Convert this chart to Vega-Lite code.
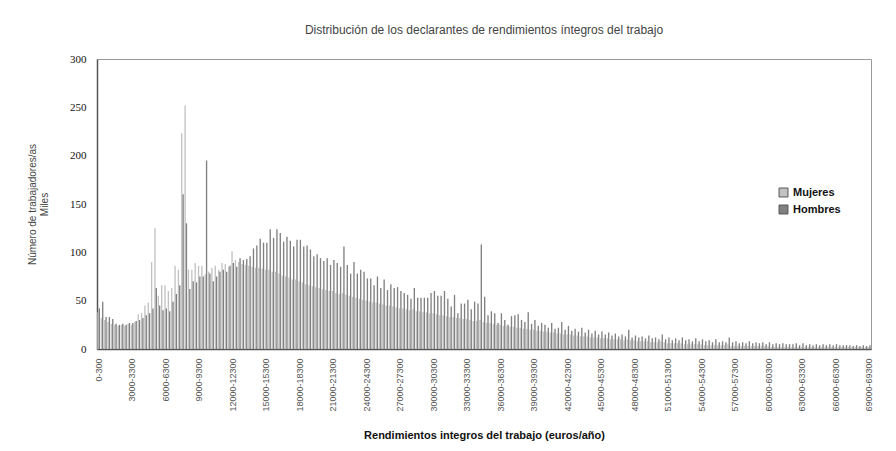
{
"$schema":"https://vega.github.io/schema/vega-lite/v6.json",
"width":774,"height":290,
"autosize":{"type":"none"},
"padding":{"left":97,"top":59,"right":25,"bottom":102},
"background":"white",
"title":{"text":"Distribución de los declarantes de rendimientos íntegros del trabajo","font":"Liberation Sans","fontSize":12,"fontWeight":"normal","color":"#444","anchor":"middle","offset":16},
"config":{"view":{"stroke":"#9a9a9a","strokeWidth":1}},
"data":{"values":[
{"rango":"0-300","sexo":"Mujeres","miles":38},{"rango":"0-300","sexo":"Hombres","miles":42},
{"rango":"300-600","sexo":"Mujeres","miles":32},{"rango":"300-600","sexo":"Hombres","miles":49},
{"rango":"600-900","sexo":"Mujeres","miles":30},{"rango":"600-900","sexo":"Hombres","miles":33},
{"rango":"900-1200","sexo":"Mujeres","miles":28},{"rango":"900-1200","sexo":"Hombres","miles":33},
{"rango":"1200-1500","sexo":"Mujeres","miles":26},{"rango":"1200-1500","sexo":"Hombres","miles":31},
{"rango":"1500-1800","sexo":"Mujeres","miles":25},{"rango":"1500-1800","sexo":"Hombres","miles":26},
{"rango":"1800-2100","sexo":"Mujeres","miles":24},{"rango":"1800-2100","sexo":"Hombres","miles":25},
{"rango":"2100-2400","sexo":"Mujeres","miles":25},{"rango":"2100-2400","sexo":"Hombres","miles":26},
{"rango":"2400-2700","sexo":"Mujeres","miles":24},{"rango":"2400-2700","sexo":"Hombres","miles":25},
{"rango":"2700-3000","sexo":"Mujeres","miles":26},{"rango":"2700-3000","sexo":"Hombres","miles":27},
{"rango":"3000-3300","sexo":"Mujeres","miles":25},{"rango":"3000-3300","sexo":"Hombres","miles":27},
{"rango":"3300-3600","sexo":"Mujeres","miles":28},{"rango":"3300-3600","sexo":"Hombres","miles":29},
{"rango":"3600-3900","sexo":"Mujeres","miles":36},{"rango":"3600-3900","sexo":"Hombres","miles":30},
{"rango":"3900-4200","sexo":"Mujeres","miles":37},{"rango":"3900-4200","sexo":"Hombres","miles":32},
{"rango":"4200-4500","sexo":"Mujeres","miles":45},{"rango":"4200-4500","sexo":"Hombres","miles":35},
{"rango":"4500-4800","sexo":"Mujeres","miles":48},{"rango":"4500-4800","sexo":"Hombres","miles":37},
{"rango":"4800-5100","sexo":"Mujeres","miles":90},{"rango":"4800-5100","sexo":"Hombres","miles":42},
{"rango":"5100-5400","sexo":"Mujeres","miles":125},{"rango":"5100-5400","sexo":"Hombres","miles":63},
{"rango":"5400-5700","sexo":"Mujeres","miles":55},{"rango":"5400-5700","sexo":"Hombres","miles":45},
{"rango":"5700-6000","sexo":"Mujeres","miles":66},{"rango":"5700-6000","sexo":"Hombres","miles":40},
{"rango":"6000-6300","sexo":"Mujeres","miles":66},{"rango":"6000-6300","sexo":"Hombres","miles":42},
{"rango":"6300-6600","sexo":"Mujeres","miles":60},{"rango":"6300-6600","sexo":"Hombres","miles":39},
{"rango":"6600-6900","sexo":"Mujeres","miles":63},{"rango":"6600-6900","sexo":"Hombres","miles":49},
{"rango":"6900-7200","sexo":"Mujeres","miles":86},{"rango":"6900-7200","sexo":"Hombres","miles":57},
{"rango":"7200-7500","sexo":"Mujeres","miles":82},{"rango":"7200-7500","sexo":"Hombres","miles":66},
{"rango":"7500-7800","sexo":"Mujeres","miles":223},{"rango":"7500-7800","sexo":"Hombres","miles":160},
{"rango":"7800-8100","sexo":"Mujeres","miles":252},{"rango":"7800-8100","sexo":"Hombres","miles":130},
{"rango":"8100-8400","sexo":"Mujeres","miles":82},{"rango":"8100-8400","sexo":"Hombres","miles":62},
{"rango":"8400-8700","sexo":"Mujeres","miles":82},{"rango":"8400-8700","sexo":"Hombres","miles":70},
{"rango":"8700-9000","sexo":"Mujeres","miles":89},{"rango":"8700-9000","sexo":"Hombres","miles":69},
{"rango":"9000-9300","sexo":"Mujeres","miles":86},{"rango":"9000-9300","sexo":"Hombres","miles":75},
{"rango":"9300-9600","sexo":"Mujeres","miles":86},{"rango":"9300-9600","sexo":"Hombres","miles":75},
{"rango":"9600-9900","sexo":"Mujeres","miles":77},{"rango":"9600-9900","sexo":"Hombres","miles":195},
{"rango":"9900-10200","sexo":"Mujeres","miles":80},{"rango":"9900-10200","sexo":"Hombres","miles":78},
{"rango":"10200-10500","sexo":"Mujeres","miles":84},{"rango":"10200-10500","sexo":"Hombres","miles":70},
{"rango":"10500-10800","sexo":"Mujeres","miles":86},{"rango":"10500-10800","sexo":"Hombres","miles":75},
{"rango":"10800-11100","sexo":"Mujeres","miles":82},{"rango":"10800-11100","sexo":"Hombres","miles":80},
{"rango":"11100-11400","sexo":"Mujeres","miles":89},{"rango":"11100-11400","sexo":"Hombres","miles":82},
{"rango":"11400-11700","sexo":"Mujeres","miles":88},{"rango":"11400-11700","sexo":"Hombres","miles":80},
{"rango":"11700-12000","sexo":"Mujeres","miles":85},{"rango":"11700-12000","sexo":"Hombres","miles":86},
{"rango":"12000-12300","sexo":"Mujeres","miles":101},{"rango":"12000-12300","sexo":"Hombres","miles":89},
{"rango":"12300-12600","sexo":"Mujeres","miles":92},{"rango":"12300-12600","sexo":"Hombres","miles":85},
{"rango":"12600-12900","sexo":"Mujeres","miles":90},{"rango":"12600-12900","sexo":"Hombres","miles":94},
{"rango":"12900-13200","sexo":"Mujeres","miles":88},{"rango":"12900-13200","sexo":"Hombres","miles":92},
{"rango":"13200-13500","sexo":"Mujeres","miles":87},{"rango":"13200-13500","sexo":"Hombres","miles":93},
{"rango":"13500-13800","sexo":"Mujeres","miles":86},{"rango":"13500-13800","sexo":"Hombres","miles":96},
{"rango":"13800-14100","sexo":"Mujeres","miles":85},{"rango":"13800-14100","sexo":"Hombres","miles":104},
{"rango":"14100-14400","sexo":"Mujeres","miles":84},{"rango":"14100-14400","sexo":"Hombres","miles":107},
{"rango":"14400-14700","sexo":"Mujeres","miles":84},{"rango":"14400-14700","sexo":"Hombres","miles":114},
{"rango":"14700-15000","sexo":"Mujeres","miles":83},{"rango":"14700-15000","sexo":"Hombres","miles":110},
{"rango":"15000-15300","sexo":"Mujeres","miles":82},{"rango":"15000-15300","sexo":"Hombres","miles":110},
{"rango":"15300-15600","sexo":"Mujeres","miles":82},{"rango":"15300-15600","sexo":"Hombres","miles":124},
{"rango":"15600-15900","sexo":"Mujeres","miles":80},{"rango":"15600-15900","sexo":"Hombres","miles":115},
{"rango":"15900-16200","sexo":"Mujeres","miles":80},{"rango":"15900-16200","sexo":"Hombres","miles":124},
{"rango":"16200-16500","sexo":"Mujeres","miles":78},{"rango":"16200-16500","sexo":"Hombres","miles":120},
{"rango":"16500-16800","sexo":"Mujeres","miles":76},{"rango":"16500-16800","sexo":"Hombres","miles":111},
{"rango":"16800-17100","sexo":"Mujeres","miles":75},{"rango":"16800-17100","sexo":"Hombres","miles":116},
{"rango":"17100-17400","sexo":"Mujeres","miles":74},{"rango":"17100-17400","sexo":"Hombres","miles":112},
{"rango":"17400-17700","sexo":"Mujeres","miles":72},{"rango":"17400-17700","sexo":"Hombres","miles":106},
{"rango":"17700-18000","sexo":"Mujeres","miles":72},{"rango":"17700-18000","sexo":"Hombres","miles":113},
{"rango":"18000-18300","sexo":"Mujeres","miles":70},{"rango":"18000-18300","sexo":"Hombres","miles":113},
{"rango":"18300-18600","sexo":"Mujeres","miles":69},{"rango":"18300-18600","sexo":"Hombres","miles":106},
{"rango":"18600-18900","sexo":"Mujeres","miles":67},{"rango":"18600-18900","sexo":"Hombres","miles":107},
{"rango":"18900-19200","sexo":"Mujeres","miles":66},{"rango":"18900-19200","sexo":"Hombres","miles":103},
{"rango":"19200-19500","sexo":"Mujeres","miles":65},{"rango":"19200-19500","sexo":"Hombres","miles":96},
{"rango":"19500-19800","sexo":"Mujeres","miles":64},{"rango":"19500-19800","sexo":"Hombres","miles":98},
{"rango":"19800-20100","sexo":"Mujeres","miles":63},{"rango":"19800-20100","sexo":"Hombres","miles":94},
{"rango":"20100-20400","sexo":"Mujeres","miles":62},{"rango":"20100-20400","sexo":"Hombres","miles":91},
{"rango":"20400-20700","sexo":"Mujeres","miles":61},{"rango":"20400-20700","sexo":"Hombres","miles":94},
{"rango":"20700-21000","sexo":"Mujeres","miles":60},{"rango":"20700-21000","sexo":"Hombres","miles":87},
{"rango":"21000-21300","sexo":"Mujeres","miles":60},{"rango":"21000-21300","sexo":"Hombres","miles":92},
{"rango":"21300-21600","sexo":"Mujeres","miles":58},{"rango":"21300-21600","sexo":"Hombres","miles":89},
{"rango":"21600-21900","sexo":"Mujeres","miles":57},{"rango":"21600-21900","sexo":"Hombres","miles":85},
{"rango":"21900-22200","sexo":"Mujeres","miles":58},{"rango":"21900-22200","sexo":"Hombres","miles":106},
{"rango":"22200-22500","sexo":"Mujeres","miles":56},{"rango":"22200-22500","sexo":"Hombres","miles":87},
{"rango":"22500-22800","sexo":"Mujeres","miles":55},{"rango":"22500-22800","sexo":"Hombres","miles":78},
{"rango":"22800-23100","sexo":"Mujeres","miles":54},{"rango":"22800-23100","sexo":"Hombres","miles":90},
{"rango":"23100-23400","sexo":"Mujeres","miles":53},{"rango":"23100-23400","sexo":"Hombres","miles":78},
{"rango":"23400-23700","sexo":"Mujeres","miles":52},{"rango":"23400-23700","sexo":"Hombres","miles":82},
{"rango":"23700-24000","sexo":"Mujeres","miles":51},{"rango":"23700-24000","sexo":"Hombres","miles":80},
{"rango":"24000-24300","sexo":"Mujeres","miles":50},{"rango":"24000-24300","sexo":"Hombres","miles":73},
{"rango":"24300-24600","sexo":"Mujeres","miles":49},{"rango":"24300-24600","sexo":"Hombres","miles":73},
{"rango":"24600-24900","sexo":"Mujeres","miles":48},{"rango":"24600-24900","sexo":"Hombres","miles":66},
{"rango":"24900-25200","sexo":"Mujeres","miles":48},{"rango":"24900-25200","sexo":"Hombres","miles":75},
{"rango":"25200-25500","sexo":"Mujeres","miles":47},{"rango":"25200-25500","sexo":"Hombres","miles":63},
{"rango":"25500-25800","sexo":"Mujeres","miles":46},{"rango":"25500-25800","sexo":"Hombres","miles":72},
{"rango":"25800-26100","sexo":"Mujeres","miles":45},{"rango":"25800-26100","sexo":"Hombres","miles":61},
{"rango":"26100-26400","sexo":"Mujeres","miles":45},{"rango":"26100-26400","sexo":"Hombres","miles":67},
{"rango":"26400-26700","sexo":"Mujeres","miles":44},{"rango":"26400-26700","sexo":"Hombres","miles":63},
{"rango":"26700-27000","sexo":"Mujeres","miles":43},{"rango":"26700-27000","sexo":"Hombres","miles":64},
{"rango":"27000-27300","sexo":"Mujeres","miles":42},{"rango":"27000-27300","sexo":"Hombres","miles":60},
{"rango":"27300-27600","sexo":"Mujeres","miles":42},{"rango":"27300-27600","sexo":"Hombres","miles":58},
{"rango":"27600-27900","sexo":"Mujeres","miles":41},{"rango":"27600-27900","sexo":"Hombres","miles":56},
{"rango":"27900-28200","sexo":"Mujeres","miles":40},{"rango":"27900-28200","sexo":"Hombres","miles":52},
{"rango":"28200-28500","sexo":"Mujeres","miles":41},{"rango":"28200-28500","sexo":"Hombres","miles":63},
{"rango":"28500-28800","sexo":"Mujeres","miles":39},{"rango":"28500-28800","sexo":"Hombres","miles":53},
{"rango":"28800-29100","sexo":"Mujeres","miles":39},{"rango":"28800-29100","sexo":"Hombres","miles":53},
{"rango":"29100-29400","sexo":"Mujeres","miles":38},{"rango":"29100-29400","sexo":"Hombres","miles":53},
{"rango":"29400-29700","sexo":"Mujeres","miles":38},{"rango":"29400-29700","sexo":"Hombres","miles":53},
{"rango":"29700-30000","sexo":"Mujeres","miles":37},{"rango":"29700-30000","sexo":"Hombres","miles":58},
{"rango":"30000-30300","sexo":"Mujeres","miles":37},{"rango":"30000-30300","sexo":"Hombres","miles":60},
{"rango":"30300-30600","sexo":"Mujeres","miles":36},{"rango":"30300-30600","sexo":"Hombres","miles":55},
{"rango":"30600-30900","sexo":"Mujeres","miles":35},{"rango":"30600-30900","sexo":"Hombres","miles":55},
{"rango":"30900-31200","sexo":"Mujeres","miles":35},{"rango":"30900-31200","sexo":"Hombres","miles":60},
{"rango":"31200-31500","sexo":"Mujeres","miles":34},{"rango":"31200-31500","sexo":"Hombres","miles":52},
{"rango":"31500-31800","sexo":"Mujeres","miles":33},{"rango":"31500-31800","sexo":"Hombres","miles":44},
{"rango":"31800-32100","sexo":"Mujeres","miles":33},{"rango":"31800-32100","sexo":"Hombres","miles":56},
{"rango":"32100-32400","sexo":"Mujeres","miles":32},{"rango":"32100-32400","sexo":"Hombres","miles":37},
{"rango":"32400-32700","sexo":"Mujeres","miles":32},{"rango":"32400-32700","sexo":"Hombres","miles":47},
{"rango":"32700-33000","sexo":"Mujeres","miles":31},{"rango":"32700-33000","sexo":"Hombres","miles":47},
{"rango":"33000-33300","sexo":"Mujeres","miles":31},{"rango":"33000-33300","sexo":"Hombres","miles":51},
{"rango":"33300-33600","sexo":"Mujeres","miles":30},{"rango":"33300-33600","sexo":"Hombres","miles":41},
{"rango":"33600-33900","sexo":"Mujeres","miles":29},{"rango":"33600-33900","sexo":"Hombres","miles":49},
{"rango":"33900-34200","sexo":"Mujeres","miles":29},{"rango":"33900-34200","sexo":"Hombres","miles":47},
{"rango":"34200-34500","sexo":"Mujeres","miles":30},{"rango":"34200-34500","sexo":"Hombres","miles":108},
{"rango":"34500-34800","sexo":"Mujeres","miles":28},{"rango":"34500-34800","sexo":"Hombres","miles":54},
{"rango":"34800-35100","sexo":"Mujeres","miles":27},{"rango":"34800-35100","sexo":"Hombres","miles":35},
{"rango":"35100-35400","sexo":"Mujeres","miles":27},{"rango":"35100-35400","sexo":"Hombres","miles":39},
{"rango":"35400-35700","sexo":"Mujeres","miles":26},{"rango":"35400-35700","sexo":"Hombres","miles":37},
{"rango":"35700-36000","sexo":"Mujeres","miles":25},{"rango":"35700-36000","sexo":"Hombres","miles":27},
{"rango":"36000-36300","sexo":"Mujeres","miles":25},{"rango":"36000-36300","sexo":"Hombres","miles":37},
{"rango":"36300-36600","sexo":"Mujeres","miles":24},{"rango":"36300-36600","sexo":"Hombres","miles":30},
{"rango":"36600-36900","sexo":"Mujeres","miles":24},{"rango":"36600-36900","sexo":"Hombres","miles":25},
{"rango":"36900-37200","sexo":"Mujeres","miles":23},{"rango":"36900-37200","sexo":"Hombres","miles":34},
{"rango":"37200-37500","sexo":"Mujeres","miles":23},{"rango":"37200-37500","sexo":"Hombres","miles":35},
{"rango":"37500-37800","sexo":"Mujeres","miles":22},{"rango":"37500-37800","sexo":"Hombres","miles":36},
{"rango":"37800-38100","sexo":"Mujeres","miles":22},{"rango":"37800-38100","sexo":"Hombres","miles":30},
{"rango":"38100-38400","sexo":"Mujeres","miles":21},{"rango":"38100-38400","sexo":"Hombres","miles":28},
{"rango":"38400-38700","sexo":"Mujeres","miles":21},{"rango":"38400-38700","sexo":"Hombres","miles":38},
{"rango":"38700-39000","sexo":"Mujeres","miles":20},{"rango":"38700-39000","sexo":"Hombres","miles":26},
{"rango":"39000-39300","sexo":"Mujeres","miles":20},{"rango":"39000-39300","sexo":"Hombres","miles":30},
{"rango":"39300-39600","sexo":"Mujeres","miles":19},{"rango":"39300-39600","sexo":"Hombres","miles":24},
{"rango":"39600-39900","sexo":"Mujeres","miles":19},{"rango":"39600-39900","sexo":"Hombres","miles":27},
{"rango":"39900-40200","sexo":"Mujeres","miles":18},{"rango":"39900-40200","sexo":"Hombres","miles":25},
{"rango":"40200-40500","sexo":"Mujeres","miles":18},{"rango":"40200-40500","sexo":"Hombres","miles":22},
{"rango":"40500-40800","sexo":"Mujeres","miles":17},{"rango":"40500-40800","sexo":"Hombres","miles":27},
{"rango":"40800-41100","sexo":"Mujeres","miles":17},{"rango":"40800-41100","sexo":"Hombres","miles":21},
{"rango":"41100-41400","sexo":"Mujeres","miles":16},{"rango":"41100-41400","sexo":"Hombres","miles":22},
{"rango":"41400-41700","sexo":"Mujeres","miles":16},{"rango":"41400-41700","sexo":"Hombres","miles":28},
{"rango":"41700-42000","sexo":"Mujeres","miles":15},{"rango":"41700-42000","sexo":"Hombres","miles":20},
{"rango":"42000-42300","sexo":"Mujeres","miles":15},{"rango":"42000-42300","sexo":"Hombres","miles":24},
{"rango":"42300-42600","sexo":"Mujeres","miles":15},{"rango":"42300-42600","sexo":"Hombres","miles":19},
{"rango":"42600-42900","sexo":"Mujeres","miles":14},{"rango":"42600-42900","sexo":"Hombres","miles":21},
{"rango":"42900-43200","sexo":"Mujeres","miles":14},{"rango":"42900-43200","sexo":"Hombres","miles":18},
{"rango":"43200-43500","sexo":"Mujeres","miles":13},{"rango":"43200-43500","sexo":"Hombres","miles":22},
{"rango":"43500-43800","sexo":"Mujeres","miles":13},{"rango":"43500-43800","sexo":"Hombres","miles":17},
{"rango":"43800-44100","sexo":"Mujeres","miles":13},{"rango":"43800-44100","sexo":"Hombres","miles":20},
{"rango":"44100-44400","sexo":"Mujeres","miles":12},{"rango":"44100-44400","sexo":"Hombres","miles":16},
{"rango":"44400-44700","sexo":"Mujeres","miles":12},{"rango":"44400-44700","sexo":"Hombres","miles":19},
{"rango":"44700-45000","sexo":"Mujeres","miles":12},{"rango":"44700-45000","sexo":"Hombres","miles":15},
{"rango":"45000-45300","sexo":"Mujeres","miles":11},{"rango":"45000-45300","sexo":"Hombres","miles":18},
{"rango":"45300-45600","sexo":"Mujeres","miles":11},{"rango":"45300-45600","sexo":"Hombres","miles":15},
{"rango":"45600-45900","sexo":"Mujeres","miles":11},{"rango":"45600-45900","sexo":"Hombres","miles":17},
{"rango":"45900-46200","sexo":"Mujeres","miles":10},{"rango":"45900-46200","sexo":"Hombres","miles":14},
{"rango":"46200-46500","sexo":"Mujeres","miles":10},{"rango":"46200-46500","sexo":"Hombres","miles":16},
{"rango":"46500-46800","sexo":"Mujeres","miles":10},{"rango":"46500-46800","sexo":"Hombres","miles":13},
{"rango":"46800-47100","sexo":"Mujeres","miles":10},{"rango":"46800-47100","sexo":"Hombres","miles":15},
{"rango":"47100-47400","sexo":"Mujeres","miles":9},{"rango":"47100-47400","sexo":"Hombres","miles":13},
{"rango":"47400-47700","sexo":"Mujeres","miles":10},{"rango":"47400-47700","sexo":"Hombres","miles":20},
{"rango":"47700-48000","sexo":"Mujeres","miles":9},{"rango":"47700-48000","sexo":"Hombres","miles":12},
{"rango":"48000-48300","sexo":"Mujeres","miles":9},{"rango":"48000-48300","sexo":"Hombres","miles":14},
{"rango":"48300-48600","sexo":"Mujeres","miles":8},{"rango":"48300-48600","sexo":"Hombres","miles":12},
{"rango":"48600-48900","sexo":"Mujeres","miles":8},{"rango":"48600-48900","sexo":"Hombres","miles":13},
{"rango":"48900-49200","sexo":"Mujeres","miles":8},{"rango":"48900-49200","sexo":"Hombres","miles":11},
{"rango":"49200-49500","sexo":"Mujeres","miles":8},{"rango":"49200-49500","sexo":"Hombres","miles":14},
{"rango":"49500-49800","sexo":"Mujeres","miles":7},{"rango":"49500-49800","sexo":"Hombres","miles":11},
{"rango":"49800-50100","sexo":"Mujeres","miles":7},{"rango":"49800-50100","sexo":"Hombres","miles":12},
{"rango":"50100-50400","sexo":"Mujeres","miles":7},{"rango":"50100-50400","sexo":"Hombres","miles":10},
{"rango":"50400-50700","sexo":"Mujeres","miles":8},{"rango":"50400-50700","sexo":"Hombres","miles":15},
{"rango":"50700-51000","sexo":"Mujeres","miles":7},{"rango":"50700-51000","sexo":"Hombres","miles":10},
{"rango":"51000-51300","sexo":"Mujeres","miles":6},{"rango":"51000-51300","sexo":"Hombres","miles":12},
{"rango":"51300-51600","sexo":"Mujeres","miles":6},{"rango":"51300-51600","sexo":"Hombres","miles":9},
{"rango":"51600-51900","sexo":"Mujeres","miles":6},{"rango":"51600-51900","sexo":"Hombres","miles":11},
{"rango":"51900-52200","sexo":"Mujeres","miles":6},{"rango":"51900-52200","sexo":"Hombres","miles":9},
{"rango":"52200-52500","sexo":"Mujeres","miles":6},{"rango":"52200-52500","sexo":"Hombres","miles":12},
{"rango":"52500-52800","sexo":"Mujeres","miles":5},{"rango":"52500-52800","sexo":"Hombres","miles":9},
{"rango":"52800-53100","sexo":"Mujeres","miles":5},{"rango":"52800-53100","sexo":"Hombres","miles":10},
{"rango":"53100-53400","sexo":"Mujeres","miles":5},{"rango":"53100-53400","sexo":"Hombres","miles":8},
{"rango":"53400-53700","sexo":"Mujeres","miles":5},{"rango":"53400-53700","sexo":"Hombres","miles":11},
{"rango":"53700-54000","sexo":"Mujeres","miles":5},{"rango":"53700-54000","sexo":"Hombres","miles":8},
{"rango":"54000-54300","sexo":"Mujeres","miles":5},{"rango":"54000-54300","sexo":"Hombres","miles":10},
{"rango":"54300-54600","sexo":"Mujeres","miles":4},{"rango":"54300-54600","sexo":"Hombres","miles":8},
{"rango":"54600-54900","sexo":"Mujeres","miles":4},{"rango":"54600-54900","sexo":"Hombres","miles":9},
{"rango":"54900-55200","sexo":"Mujeres","miles":4},{"rango":"54900-55200","sexo":"Hombres","miles":7},
{"rango":"55200-55500","sexo":"Mujeres","miles":4},{"rango":"55200-55500","sexo":"Hombres","miles":10},
{"rango":"55500-55800","sexo":"Mujeres","miles":4},{"rango":"55500-55800","sexo":"Hombres","miles":7},
{"rango":"55800-56100","sexo":"Mujeres","miles":4},{"rango":"55800-56100","sexo":"Hombres","miles":8},
{"rango":"56100-56400","sexo":"Mujeres","miles":4},{"rango":"56100-56400","sexo":"Hombres","miles":7},
{"rango":"56400-56700","sexo":"Mujeres","miles":5},{"rango":"56400-56700","sexo":"Hombres","miles":12},
{"rango":"56700-57000","sexo":"Mujeres","miles":3},{"rango":"56700-57000","sexo":"Hombres","miles":7},
{"rango":"57000-57300","sexo":"Mujeres","miles":3},{"rango":"57000-57300","sexo":"Hombres","miles":8},
{"rango":"57300-57600","sexo":"Mujeres","miles":3},{"rango":"57300-57600","sexo":"Hombres","miles":6},
{"rango":"57600-57900","sexo":"Mujeres","miles":3},{"rango":"57600-57900","sexo":"Hombres","miles":7},
{"rango":"57900-58200","sexo":"Mujeres","miles":3},{"rango":"57900-58200","sexo":"Hombres","miles":6},
{"rango":"58200-58500","sexo":"Mujeres","miles":3},{"rango":"58200-58500","sexo":"Hombres","miles":8},
{"rango":"58500-58800","sexo":"Mujeres","miles":3},{"rango":"58500-58800","sexo":"Hombres","miles":6},
{"rango":"58800-59100","sexo":"Mujeres","miles":3},{"rango":"58800-59100","sexo":"Hombres","miles":7},
{"rango":"59100-59400","sexo":"Mujeres","miles":3},{"rango":"59100-59400","sexo":"Hombres","miles":6},
{"rango":"59400-59700","sexo":"Mujeres","miles":3},{"rango":"59400-59700","sexo":"Hombres","miles":7},
{"rango":"59700-60000","sexo":"Mujeres","miles":3},{"rango":"59700-60000","sexo":"Hombres","miles":5},
{"rango":"60000-60300","sexo":"Mujeres","miles":3},{"rango":"60000-60300","sexo":"Hombres","miles":7},
{"rango":"60300-60600","sexo":"Mujeres","miles":2},{"rango":"60300-60600","sexo":"Hombres","miles":5},
{"rango":"60600-60900","sexo":"Mujeres","miles":2},{"rango":"60600-60900","sexo":"Hombres","miles":6},
{"rango":"60900-61200","sexo":"Mujeres","miles":2},{"rango":"60900-61200","sexo":"Hombres","miles":5},
{"rango":"61200-61500","sexo":"Mujeres","miles":2},{"rango":"61200-61500","sexo":"Hombres","miles":6},
{"rango":"61500-61800","sexo":"Mujeres","miles":2},{"rango":"61500-61800","sexo":"Hombres","miles":5},
{"rango":"61800-62100","sexo":"Mujeres","miles":2},{"rango":"61800-62100","sexo":"Hombres","miles":5},
{"rango":"62100-62400","sexo":"Mujeres","miles":2},{"rango":"62100-62400","sexo":"Hombres","miles":5},
{"rango":"62400-62700","sexo":"Mujeres","miles":2},{"rango":"62400-62700","sexo":"Hombres","miles":6},
{"rango":"62700-63000","sexo":"Mujeres","miles":2},{"rango":"62700-63000","sexo":"Hombres","miles":4},
{"rango":"63000-63300","sexo":"Mujeres","miles":2},{"rango":"63000-63300","sexo":"Hombres","miles":6},
{"rango":"63300-63600","sexo":"Mujeres","miles":2},{"rango":"63300-63600","sexo":"Hombres","miles":4},
{"rango":"63600-63900","sexo":"Mujeres","miles":2},{"rango":"63600-63900","sexo":"Hombres","miles":5},
{"rango":"63900-64200","sexo":"Mujeres","miles":2},{"rango":"63900-64200","sexo":"Hombres","miles":4},
{"rango":"64200-64500","sexo":"Mujeres","miles":2},{"rango":"64200-64500","sexo":"Hombres","miles":5},
{"rango":"64500-64800","sexo":"Mujeres","miles":2},{"rango":"64500-64800","sexo":"Hombres","miles":4},
{"rango":"64800-65100","sexo":"Mujeres","miles":2},{"rango":"64800-65100","sexo":"Hombres","miles":5},
{"rango":"65100-65400","sexo":"Mujeres","miles":2},{"rango":"65100-65400","sexo":"Hombres","miles":4},
{"rango":"65400-65700","sexo":"Mujeres","miles":2},{"rango":"65400-65700","sexo":"Hombres","miles":5},
{"rango":"65700-66000","sexo":"Mujeres","miles":2},{"rango":"65700-66000","sexo":"Hombres","miles":4},
{"rango":"66000-66300","sexo":"Mujeres","miles":2},{"rango":"66000-66300","sexo":"Hombres","miles":5},
{"rango":"66300-66600","sexo":"Mujeres","miles":2},{"rango":"66300-66600","sexo":"Hombres","miles":4},
{"rango":"66600-66900","sexo":"Mujeres","miles":2},{"rango":"66600-66900","sexo":"Hombres","miles":4},
{"rango":"66900-67200","sexo":"Mujeres","miles":2},{"rango":"66900-67200","sexo":"Hombres","miles":4},
{"rango":"67200-67500","sexo":"Mujeres","miles":2},{"rango":"67200-67500","sexo":"Hombres","miles":4},
{"rango":"67500-67800","sexo":"Mujeres","miles":2},{"rango":"67500-67800","sexo":"Hombres","miles":3},
{"rango":"67800-68100","sexo":"Mujeres","miles":2},{"rango":"67800-68100","sexo":"Hombres","miles":4},
{"rango":"68100-68400","sexo":"Mujeres","miles":2},{"rango":"68100-68400","sexo":"Hombres","miles":3},
{"rango":"68400-68700","sexo":"Mujeres","miles":2},{"rango":"68400-68700","sexo":"Hombres","miles":4},
{"rango":"68700-69000","sexo":"Mujeres","miles":2},{"rango":"68700-69000","sexo":"Hombres","miles":3},
{"rango":"69000-69300","sexo":"Mujeres","miles":2},{"rango":"69000-69300","sexo":"Hombres","miles":4}
]},
"mark":{"type":"bar"},
"encoding":{
"x":{"field":"rango","type":"nominal","sort":null,
"scale":{"paddingInner":0.2,"paddingOuter":0.1},
"axis":{"values":["0-300","3000-3300","6000-6300","9000-9300","12000-12300","15000-15300","18000-18300","21000-21300","24000-24300","27000-27300","30000-30300","33000-33300","36000-36300","39000-39300","42000-42300","45000-45300","48000-48300","51000-51300","54000-54300","57000-57300","60000-60300","63000-63300","66000-66300","69000-69300"],
"labelAngle":-90,"labelAlign":"right","labelBaseline":"middle","labelFont":"Liberation Sans","labelFontSize":9,"labelColor":"#555","labelPadding":9,"ticks":false,"domainColor":"#555","domainWidth":1.5,
"title":"Rendimientos integros del trabajo (euros/año)","titleFont":"Liberation Sans","titleFontSize":11,"titleFontWeight":"bold","titleColor":"#111","titlePadding":18}},
"xOffset":{"field":"sexo","type":"nominal","sort":["Mujeres","Hombres"],"scale":{"paddingInner":0}},
"y":{"field":"miles","type":"quantitative","scale":{"domain":[0,300],"nice":false},
"axis":{"values":[0,50,100,150,200,250,300],"ticks":false,"grid":false,"labelFont":"Liberation Serif","labelFontSize":11,"labelColor":"#111","labelPadding":11,"domainColor":"#555","domainWidth":1.5,
"title":["Número de trabajadores/as","Miles"],"titleFont":"Liberation Sans","titleFontSize":10,"titleFontWeight":"normal","titleColor":"#444","titlePadding":20}},
"color":{"field":"sexo","type":"nominal","scale":{"domain":["Mujeres","Hombres"],"range":["#c2c2c2","#808080"]},
"legend":{"orient":"none","legendX":681,"legendY":128,"title":null,"symbolType":"square","symbolSize":80,"symbolStrokeColor":"#555","symbolStrokeWidth":1,"labelFont":"Liberation Sans","labelFontSize":11,"labelFontWeight":"bold","labelColor":"#111","rowPadding":4}}
}
}
